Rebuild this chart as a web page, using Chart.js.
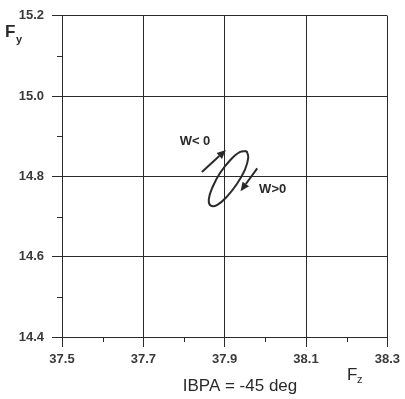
<!DOCTYPE html>
<html><head><meta charset="utf-8">
<script src="https://cdn.jsdelivr.net/npm/chart.js@4/dist/chart.umd.min.js"></script>
<style>html,body{margin:0;padding:0;background:#fff}#wrap{width:405px;height:399px}</style>
</head><body><div id="wrap"><canvas id="c" width="405" height="399"></canvas></div>
<script>
// Axis ticks (labelled majors and unlabelled minors)
const xTicks = [37.5, 37.7, 37.9, 38.1, 38.3];
const xMinor = [37.6, 37.8, 38.0, 38.2];
const yTicks = [14.4, 14.6, 14.8, 15.0, 15.2];
const yMinor = [14.5, 14.7, 14.9, 15.1];

// Closed force loop (Fz, Fy)
const loopFz = [37.954, 37.958, 37.950, 37.930, 37.905, 37.882, 37.866, 37.861, 37.870, 37.889, 37.914, 37.938, 37.954];
const loopFy = [14.863, 14.847, 14.817, 14.781, 14.749, 14.729, 14.727, 14.743, 14.773, 14.809, 14.841, 14.861, 14.863];

// Direction arrows and their captions
const arrowLabels = ['W< 0', 'W>0'];
const arrowFromFz = [37.844, 37.980];
const arrowFromFy = [14.811, 14.820];
const arrowToFz = [37.903, 37.939];
const arrowToFy = [14.866, 14.763];
const labelFz = [37.827, 38.018];
const labelFy = [14.886, 14.768];

const INK = '#2a2a2a';

const extras = {
  id: 'extras',
  afterDraw(chart) {
    const ctx = chart.ctx, xs = chart.scales.x, ys = chart.scales.y;
    const a = chart.chartArea;
    ctx.save();
    // minor tick marks
    ctx.strokeStyle = INK; ctx.lineWidth = 1;
    ctx.beginPath();
    xMinor.forEach(v => { const px = Math.round(xs.getPixelForValue(v)) + 0.5; ctx.moveTo(px, a.bottom); ctx.lineTo(px, a.bottom + 5); });
    yMinor.forEach(v => { const py = Math.round(ys.getPixelForValue(v)) + 0.5; ctx.moveTo(a.left - 5, py); ctx.lineTo(a.left, py); });
    ctx.stroke();

    // arrows
    ctx.strokeStyle = INK; ctx.fillStyle = INK; ctx.lineWidth = 2;
    for (let i = 0; i < arrowLabels.length; i++) {
      const x0 = xs.getPixelForValue(arrowFromFz[i]), y0 = ys.getPixelForValue(arrowFromFy[i]);
      const x1 = xs.getPixelForValue(arrowToFz[i]), y1 = ys.getPixelForValue(arrowToFy[i]);
      const ang = Math.atan2(y1 - y0, x1 - x0);
      const L = 9, W = 4;
      const bx = x1 - L * Math.cos(ang), by = y1 - L * Math.sin(ang);
      ctx.beginPath(); ctx.moveTo(x0, y0); ctx.lineTo(bx, by); ctx.stroke();
      ctx.beginPath();
      ctx.moveTo(x1, y1);
      ctx.lineTo(bx + W * Math.sin(ang), by - W * Math.cos(ang));
      ctx.lineTo(bx - W * Math.sin(ang), by + W * Math.cos(ang));
      ctx.closePath(); ctx.fill();
      ctx.font = 'bold 13px "Liberation Sans", Arial, sans-serif';
      ctx.textAlign = 'center'; ctx.textBaseline = 'middle';
      ctx.fillText(arrowLabels[i], xs.getPixelForValue(labelFz[i]), ys.getPixelForValue(labelFy[i]));
    }

    // axis titles with subscripts
    ctx.fillStyle = INK; ctx.textAlign = 'left'; ctx.textBaseline = 'alphabetic';
    ctx.font = 'bold 17px "Liberation Sans", Arial, sans-serif';
    ctx.fillText('F', 5, 37);
    ctx.font = 'bold 11px "Liberation Sans", Arial, sans-serif';
    ctx.fillText('y', 16, 43);
    ctx.font = '17px "Liberation Sans", Arial, sans-serif';
    ctx.fillText('F', 347, 380);
    ctx.font = '11px "Liberation Sans", Arial, sans-serif';
    ctx.fillText('z', 357, 383);
    ctx.font = '17px "Liberation Sans", Arial, sans-serif';
    ctx.textAlign = 'center';
    ctx.fillText('IBPA = -45 deg', 240, 391);
    ctx.restore();
  }
};

const tickFont = { family: '"Liberation Sans", Arial, sans-serif', size: 13, weight: 'bold' };

new Chart(document.getElementById('c'), {
  type: 'scatter',
  data: {
    datasets: [{
      data: loopFz.map((v, i) => ({ x: v, y: loopFy[i] })),
      showLine: true,
      borderColor: INK,
      borderWidth: 2,
      pointRadius: 0,
      tension: 0.4,
      fill: false
    }]
  },
  options: {
    responsive: false,
    animation: false,
    devicePixelRatio: 1,
    layout: { padding: { left: 0, right: 15, top: 13, bottom: 0 } },
    plugins: { legend: { display: false }, tooltip: { enabled: false } },
    scales: {
      x: {
        type: 'linear', min: 37.5, max: 38.3,
        afterBuildTicks: s => { s.ticks = xTicks.map(v => ({ value: v })); },
        afterFit: s => { s.height = 62; },
        ticks: { font: tickFont, color: '#3a3a3a', padding: 5, callback: v => v.toFixed(1), maxRotation: 0 },
        grid: { color: INK, lineWidth: 1, tickLength: 10, tickColor: INK },
        border: { color: INK, width: 1 }
      },
      y: {
        type: 'linear', min: 14.4, max: 15.2,
        afterBuildTicks: s => { s.ticks = yTicks.map(v => ({ value: v })); },
        afterFit: s => { s.width = 62; },
        ticks: { font: tickFont, color: '#3a3a3a', padding: 8, callback: v => v.toFixed(1) },
        grid: { color: INK, lineWidth: 1, tickLength: 10, tickColor: INK },
        border: { color: INK, width: 1 }
      }
    }
  },
  plugins: [extras]
});
</script>
</body></html>
